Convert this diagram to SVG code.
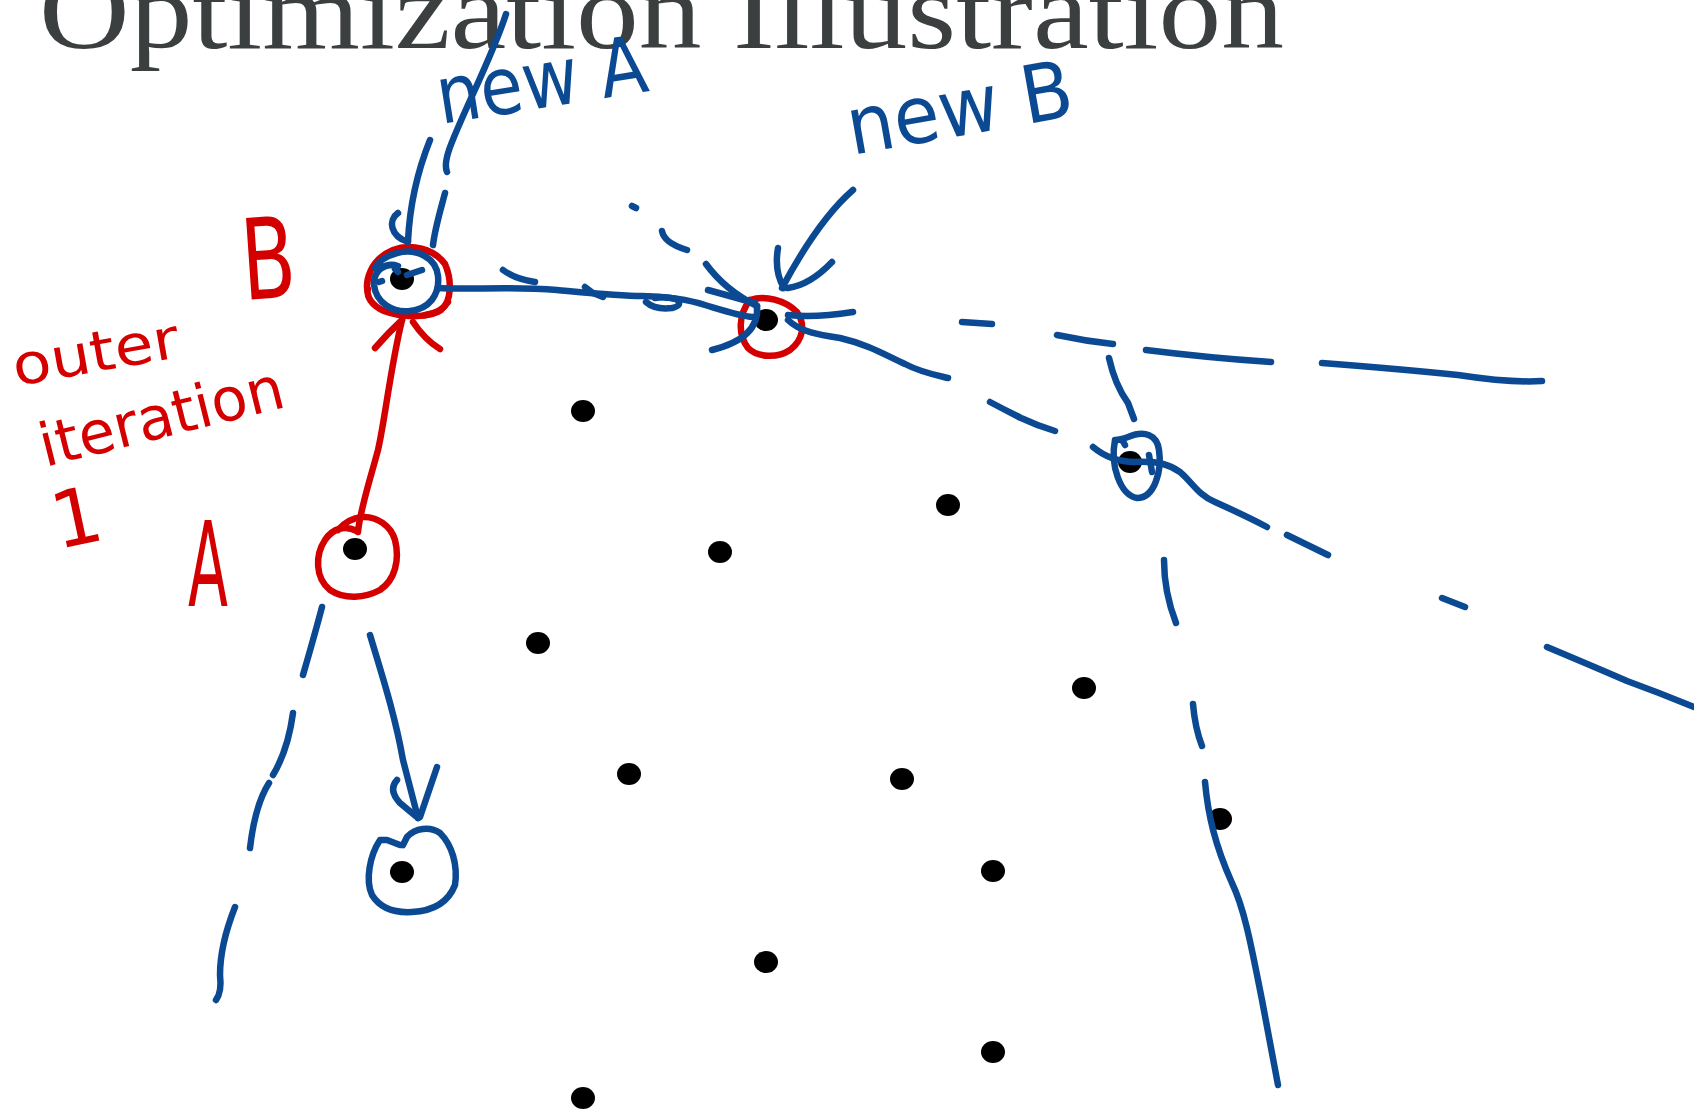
<svg xmlns="http://www.w3.org/2000/svg" width="1694" height="1112" viewBox="0 0 1694 1112">
<style>
.b{fill:none;stroke:#0B4A93;stroke-width:6.5;stroke-linecap:round;stroke-linejoin:round}
.r{fill:none;stroke:#D40000;stroke-width:6.5;stroke-linecap:round;stroke-linejoin:round}
.dot{fill:#000}
.title{font-family:"Liberation Serif","Times New Roman",serif;font-size:110px;fill:#3B3F40}
.hb{font-family:"DejaVu Sans",sans-serif;fill:#0B4A93}
.hr{font-family:"DejaVu Sans",sans-serif;fill:#D40000}
</style>
<rect width="1694" height="1112" fill="#fff"/>
<g id="title"><text class="title" x="39" y="48" textLength="1245" lengthAdjust="spacingAndGlyphs">Optimization Illustration</text></g>

<g id="nodes">
<g id="p-B"><ellipse class="dot" cx="402" cy="279" rx="12" ry="11"/></g>
<g id="p-A"><ellipse class="dot" cx="355" cy="549" rx="12" ry="11"/></g>
<g id="p-newB"><ellipse class="dot" cx="766" cy="320" rx="12" ry="11"/></g>
<g id="p4"><ellipse class="dot" cx="583" cy="411" rx="12" ry="11"/></g>
<g id="p5"><ellipse class="dot" cx="948" cy="505" rx="12" ry="11"/></g>
<g id="p6"><ellipse class="dot" cx="720" cy="552" rx="12" ry="11"/></g>
<g id="p7"><ellipse class="dot" cx="538" cy="643" rx="12" ry="11"/></g>
<g id="p8"><ellipse class="dot" cx="1130" cy="462" rx="12" ry="11"/></g>
<g id="p9"><ellipse class="dot" cx="1084" cy="688" rx="12" ry="11"/></g>
<g id="p10"><ellipse class="dot" cx="629" cy="774" rx="12" ry="11"/></g>
<g id="p11"><ellipse class="dot" cx="902" cy="779" rx="12" ry="11"/></g>
<g id="p12"><ellipse class="dot" cx="1220" cy="819" rx="12" ry="11"/></g>
<g id="p13"><ellipse class="dot" cx="993" cy="871" rx="12" ry="11"/></g>
<g id="p14"><ellipse class="dot" cx="402" cy="872" rx="12" ry="11"/></g>
<g id="p15"><ellipse class="dot" cx="766" cy="962" rx="12" ry="11"/></g>
<g id="p16"><ellipse class="dot" cx="993" cy="1052" rx="12" ry="11"/></g>
<g id="p17"><ellipse class="dot" cx="583" cy="1098" rx="12" ry="11"/></g>
</g>

<g id="connectors">
<!-- red -->
<path class="r" d="M369,298 C363,281 371,259 393,250 C411,243 434,249 445,264 C452,280 452,301 441,310 C431,317 405,319 384,311 C371,305 366,296 368,289"/>
<path class="r" d="M425,315 Q441,313 448,302"/>
<path class="r" d="M358,532 C360,510 370,480 378,450 C385,420 390,370 402,320"/>
<path class="r" d="M375,348 Q388,333 402,320 M413,322 Q425,340 440,349"/>
<path class="r" d="M338,530 C345,522 352,518 362,517 C377,516 391,526 395,540 C400,560 395,580 380,590 C365,598 345,600 330,590 C315,578 315,555 325,540 C333,528 345,525 357,531"/>
<path class="r" d="M750,300 C765,295 785,300 797,312 C806,325 803,340 790,350 C778,358 758,358 748,348 C738,335 738,315 750,300"/>
<!-- blue: new A pointer -->
<path class="b" d="M506,14 C492,58 460,118 449,150 Q444,165 447,172"/>
<path class="b" d="M430,140 C420,165 410,200 408,241"/>
<path class="b" d="M398,213 C388,220 390,236 408,242"/>
<path class="b" d="M445,193 C440,212 435,228 433,245"/>
<path class="b" d="M398,266 C386,262 373,270 374,285 C376,303 393,313 410,311 C429,309 440,295 438,276 C436,257 416,248 397,253 C385,256 377,263 375,268"/>
<path class="b" d="M379,282 L382,281 M395,269 L398,272 M407,275 L422,270"/>
<!-- blue: B to new B -->
<path class="b" d="M438,288 C470,290 510,286 557,290 C590,293 620,296 642,296 C665,296 690,300 705,305 C725,311 740,316 753,317"/>
<path class="b" d="M585,287 L593,293 L603,297"/>
<path class="b" d="M646,302 Q655,310 672,308 Q684,305 676,299 Q665,296 655,298"/>
<path class="b" d="M503,270 Q515,279 535,282"/>
<path class="b" d="M632,206 L636,208"/>
<path class="b" d="M662,231 Q664,243 687,250"/>
<path class="b" d="M706,264 Q725,290 757,306"/>
<path class="b" d="M708,290 L755,303"/>
<path class="b" d="M757,306 Q760,338 712,350"/>
<!-- blue: new B pointer -->
<path class="b" d="M853,190 C830,210 805,245 782,288"/>
<path class="b" d="M778,248 Q774,272 784,288"/>
<path class="b" d="M832,262 Q810,285 788,288"/>
<!-- blue: right of new B -->
<path class="b" d="M788,315 Q815,318 853,312"/>
<path class="b" d="M788,320 C800,332 820,335 840,338 C870,345 885,355 905,364 C920,372 935,375 948,378"/>
<path class="b" d="M962,322 L992,324"/>
<path class="b" d="M1057,335 Q1085,341 1113,344"/>
<path class="b" d="M1146,350 Q1210,358 1271,362"/>
<path class="b" d="M1322,363 Q1400,369 1458,375 Q1510,383 1542,381"/>
<path class="b" d="M1109,358 Q1115,385 1128,403 L1134,419"/>
<path class="b" d="M990,402 Q1005,410 1021,418 Q1038,426 1055,431"/>
<!-- blue: right circled point -->
<path class="b" d="M1115,440 C1110,465 1120,495 1137,498 C1155,498 1162,470 1159,450 C1157,435 1145,430 1128,437 Q1120,440 1115,440 M1115,442 Q1121,436 1125,445"/>
<path class="b" d="M1149,455 L1152,472"/>
<path class="b" d="M1093,447 C1105,457 1118,462 1135,462 C1160,461 1170,465 1180,472 C1192,482 1198,495 1215,502 C1235,511 1250,518 1267,527"/>
<path class="b" d="M1287,535 L1328,555"/>
<path class="b" d="M1442,598 L1465,607"/>
<path class="b" d="M1547,647 Q1590,665 1627,681 Q1660,693 1694,707"/>
<path class="b" d="M1164,560 Q1164,592 1176,623"/>
<path class="b" d="M1193,704 Q1195,728 1202,746"/>
<path class="b" d="M1205,782 C1208,815 1215,845 1232,883 C1245,910 1252,950 1262,1000 L1278,1085"/>
<!-- blue: left of A -->
<path class="b" d="M322,607 Q316,630 303,675"/>
<path class="b" d="M293,713 Q288,750 273,775"/>
<path class="b" d="M269,783 Q255,805 250,848"/>
<path class="b" d="M235,907 Q220,945 220,975 Q222,992 216,1000"/>
<path class="b" d="M370,635 C382,675 395,715 403,760 L418,818"/>
<path class="b" d="M397,780 Q388,790 400,803 L418,818"/>
<path class="b" d="M437,767 L420,817"/>
<path class="b" d="M400,845 L387,840 L380,840 C370,855 365,880 372,895 C380,908 395,913 412,912 C432,911 448,903 455,885 C458,865 452,845 440,833 C430,826 415,828 407,837 L403,845"/>
</g>

<g id="labels">
<g id="lbl-newA"><text class="hb" x="441" y="124" font-size="80" textLength="212" lengthAdjust="spacingAndGlyphs" transform="rotate(-9 441 124)">new A</text></g>
<g id="lbl-newB"><text class="hb" x="852" y="155" font-size="80" textLength="228" lengthAdjust="spacingAndGlyphs" transform="rotate(-10 852 155)">new B</text></g>
<g id="lbl-B"><text class="hr" x="244" y="300" font-size="112" textLength="54" lengthAdjust="spacingAndGlyphs" transform="rotate(-4 244 300)">B</text></g>
<g id="lbl-A"><text class="hr" x="188" y="606" font-size="118" textLength="40" lengthAdjust="spacingAndGlyphs">A</text></g>
<g id="lbl-outer"><text class="hr" x="16" y="386" font-size="56" textLength="168" lengthAdjust="spacingAndGlyphs" transform="rotate(-10 16 386)">outer</text>
<text class="hr" x="45" y="467" font-size="60" textLength="250" lengthAdjust="spacingAndGlyphs" transform="rotate(-14 45 467)">iteration</text>
<text class="hr" x="52" y="546" font-size="78" transform="rotate(-12 70 520)">1</text></g>
</g>
</svg>
